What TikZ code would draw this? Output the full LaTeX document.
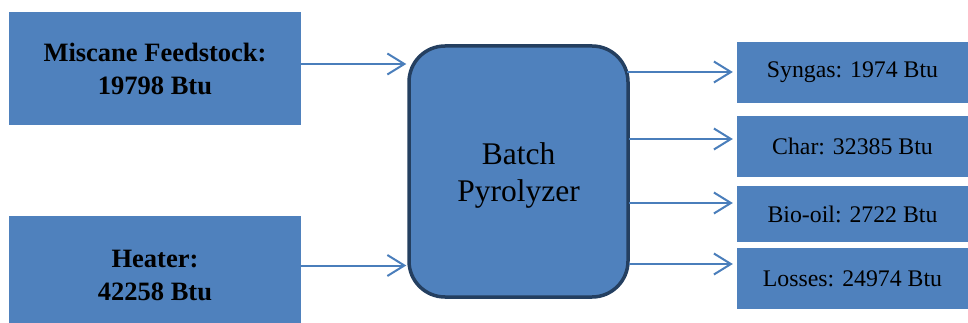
\documentclass[tikz,border=0pt]{standalone}
\usepackage{fontspec}
\setmainfont{Liberation Serif}
\usetikzlibrary{arrows.meta}
\definecolor{boxblue}{HTML}{4F81BD}
\definecolor{darkedge}{HTML}{243F60}
\definecolor{arrowblue}{HTML}{4A7EBB}
\begin{document}
\begin{tikzpicture}[x=1pt,y=-1pt,
  inbox/.style={rectangle,fill=boxblue,inner sep=0pt,align=center,
    font=\fontsize{26.5}{33}\selectfont\bfseries},
  outbox/.style={rectangle,fill=boxblue,inner sep=0pt,minimum width=231pt,
    font=\fontsize{23.8}{29}\selectfont},
  flow/.style={draw=arrowblue,line width=2pt,
    -{Straight Barb[length=17pt,width=21pt,line width=2pt]}}]
\useasboundingbox (0,0) rectangle (968,323);
\node[inbox,minimum width=292pt,minimum height=113pt] (feed) at (155,68.5)
  {Miscane Feedstock:\\19798 Btu};
\node[inbox,minimum width=292pt,minimum height=118pt] (heat) at (155,275)
  {Heater:\\42258 Btu};
\node[rectangle,rounded corners=36pt,fill=boxblue,draw=darkedge,line width=3.5pt,
  minimum width=219pt,minimum height=251pt,inner sep=0pt,
  font=\fontsize{31.5}{37}\selectfont] (pyro) at (518.5,171.5)
  {\begin{tabular}{@{}c@{}}\rule{0pt}{34pt}Batch\\Pyrolyzer\end{tabular}};
\node[outbox,minimum height=61pt] (syn) at (852.5,72.5) {Syngas: 1974 Btu};
\node[outbox,minimum height=61pt] (char) at (852.5,146.5) {Char: 32385 Btu};
\node[outbox,minimum height=56pt] (oil) at (852.5,214) {Bio-oil: 2722 Btu};
\node[outbox,minimum height=61pt] (loss) at (852.5,278.5) {Losses: 24974 Btu};
\draw[flow] (feed.east |- 0,64) -- ([xshift=-1pt]pyro.west |- 0,64);
\draw[flow] (heat.east |- 0,265.5) -- ([xshift=-1pt]pyro.west |- 0,265.5);
\draw[flow] ([xshift=-3pt]pyro.east |- 0,72) -- ([xshift=-4pt]syn.west |- 0,72);
\draw[flow] ([xshift=-1pt]pyro.east |- 0,139) -- ([xshift=-4pt]char.west |- 0,139);
\draw[flow] ([xshift=-1pt]pyro.east |- 0,203) -- ([xshift=-4pt]oil.west |- 0,203);
\draw[flow] ([xshift=-1pt]pyro.east |- 0,264) -- ([xshift=-4pt]loss.west |- 0,264);
\end{tikzpicture}
\end{document}
